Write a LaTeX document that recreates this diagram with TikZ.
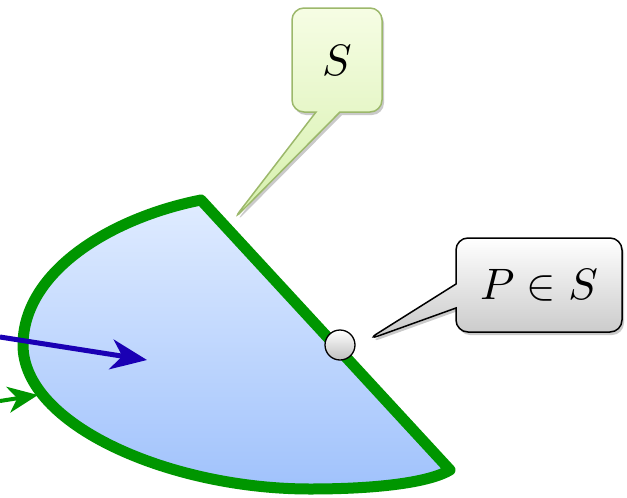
\documentclass[tikz,border=0pt]{standalone}
\usepackage{graphicx}
\usetikzlibrary{arrows.meta,shadows,shapes.callouts}
\definecolor{edgegreen}{HTML}{009600}
\definecolor{arrowblue}{HTML}{1A00B4}
\definecolor{fillTop}{HTML}{E0ECFF}
\definecolor{fillBot}{HTML}{A0C2FC}
\definecolor{sBorder}{HTML}{9CB86B}
\definecolor{sTop}{HTML}{F6FDE4}
\definecolor{sBot}{HTML}{D6F0AC}
\newcommand\bigmathtxt[1]{\scalebox{4.4}{$#1$}}
\tikzset{
  softshadow/.style={drop shadow={shadow xshift=2pt,shadow yshift=-3pt,opacity=0.35,fill=black!60}},
  scallout/.style={rectangle callout, rounded corners=12pt, draw=sBorder, line width=1.5pt,
     top color=sTop, bottom color=sBot, softshadow, callout pointer width=24pt},
  pcallout/.style={rectangle callout, rounded corners=12pt, draw=black, line width=1.5pt,
     top color=white, bottom color=black!22, softshadow, callout pointer width=24pt},
  pointdot/.style={circle, draw=black, line width=1.3pt, inner sep=0pt, minimum size=30pt,
     top color=white, bottom color=black!25},
}
\begin{document}
\begin{tikzpicture}[x=1pt,y=-1pt]
\useasboundingbox (0,0) rectangle (627,498);
% region
\coordinate (top) at (201,200);
\coordinate (left) at (23,345);
\coordinate (bot) at (310,489);
\coordinate (br) at (450,470);
\path[softshadow, top color=fillTop, bottom color=fillBot, draw=edgegreen, line width=11pt, line join=round]
  (top) .. controls (110,218) and (23,272) .. (left)
  .. controls (23,425) and (170,489) .. (bot)
  .. controls (380,489) and (430,482) .. (br) -- cycle;
% arrows
\coordinate (bstart) at (0,337);
\coordinate (bend) at (147,360);
\draw[arrowblue, line width=5pt, -{Stealth[length=36pt,width=30pt,inset=11pt]}] (bstart) -- (bend);
\coordinate (gstart) at (0,401);
\coordinate (gend) at (38,395);
\draw[edgegreen, line width=4pt, -{Stealth[length=30pt,width=26pt,inset=9pt]}] (gstart) -- (gend);
% point
\node[pointdot] (P) at (340,345) {};
% callouts
\node[scallout, minimum width=90pt, minimum height=104pt, callout absolute pointer={(233,220)}] (Sbox) at (337,60) {\bigmathtxt{S}};
\node[pcallout, minimum width=166pt, minimum height=94pt, callout absolute pointer={(367,340)}] (PSbox) at (539,285) {\bigmathtxt{P\in S}};
\end{tikzpicture}
\end{document}
